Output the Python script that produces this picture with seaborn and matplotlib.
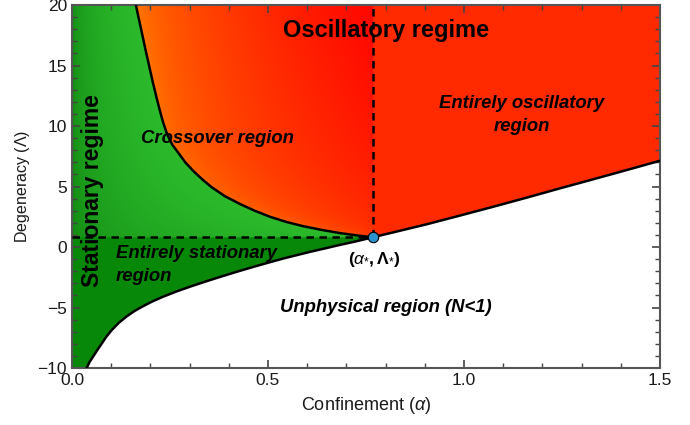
import numpy as np
import matplotlib
matplotlib.use("Agg")
import matplotlib.pyplot as plt
from matplotlib.ticker import MultipleLocator
import seaborn as sns

# boundary curves (alpha, Lambda)
upper_alpha = [0.163, 0.171, 0.180, 0.188, 0.197, 0.206, 0.215, 0.224, 0.233, 0.243, 0.256, 0.271, 0.289,
               0.309, 0.332, 0.356, 0.390, 0.429, 0.466, 0.505, 0.547, 0.590, 0.636, 0.684, 0.726, 0.767]
upper_lambda = [20.0, 18.8, 17.45, 16.25, 14.95, 13.65, 12.45, 11.3, 10.25, 9.3, 8.45, 7.8, 7.0,
                6.3, 5.6, 4.95, 4.2, 3.55, 3.0, 2.5, 2.07, 1.72, 1.42, 1.15, 0.96, 0.80]

lower_alpha = [0.0375, 0.045, 0.054, 0.065, 0.076, 0.088, 0.101, 0.120, 0.139, 0.158, 0.178, 0.205, 0.233,
               0.266, 0.301, 0.340, 0.378, 0.420, 0.463, 0.500, 0.539, 0.575, 0.607, 0.645, 0.680, 0.725,
               0.767, 0.835, 0.905, 0.990, 1.075, 1.160, 1.245, 1.330, 1.415, 1.500]
lower_lambda = [-10.0, -9.5, -9.05, -8.5, -7.98, -7.4, -6.88, -6.25, -5.75, -5.32, -4.95, -4.5, -4.1,
                -3.68, -3.28, -2.86, -2.47, -2.05, -1.64, -1.3, -0.95, -0.66, -0.40, -0.12, 0.15, 0.47,
                0.80, 1.33, 1.88, 2.6, 3.33, 4.08, 4.85, 5.6, 6.36, 7.13]

alpha_star = 0.767
lambda_star = 0.80

sns.set_style("ticks")
plt.rcParams['font.family'] = ['Liberation Sans', 'DejaVu Sans']
plt.rcParams['mathtext.fontset'] = 'custom'
plt.rcParams['mathtext.rm'] = 'Liberation Sans'
plt.rcParams['mathtext.it'] = 'Liberation Sans:italic'
plt.rcParams['mathtext.bf'] = 'Liberation Sans:bold'
plt.rcParams['text.color'] = 'black'
plt.rcParams['axes.labelcolor'] = 'black'

fig = plt.figure(figsize=(6.9, 4.25), dpi=100)
ax = fig.add_axes([0.1043, 0.1341, 0.8522, 0.8541])

# background colouring of the regimes
a = np.linspace(0, 1.5, 900)
l = np.linspace(-10, 20, 900)
A, L = np.meshgrid(a, l)
low = np.interp(A, lower_alpha, lower_lambda, left=-1e9)
a_up = np.interp(L, upper_lambda[::-1], upper_alpha[::-1])

img = np.ones(A.shape + (4,))
img[..., 3] = 0.0
physical = L >= low

red = np.array([1.0, 0x2a / 255, 0.0])
dark_green = np.array([0x08, 0x88, 0x08]) / 255
g0 = np.array([0x0e, 0x82, 0x0e]) / 255
g1 = np.array([0x2c, 0xbb, 0x2c]) / 255

osc = physical & (A >= alpha_star)
img[osc, :3] = red
img[osc, 3] = 1

ent_stat = physical & (A < alpha_star) & (L <= lambda_star)
img[ent_stat, :3] = dark_green
img[ent_stat, 3] = 1

stat = (A < alpha_star) & (L > lambda_star) & (A < a_up)
t = np.clip(A / a_up, 0, 1) ** 0.35
img[stat, :3] = (g0[None, :] * (1 - t[stat, None]) + g1[None, :] * t[stat, None])
img[stat, 3] = 1

cross = (A < alpha_star) & (L > lambda_star) & (A >= a_up)
h = np.clip((A - a_up) / (alpha_star - a_up), 0, 1) ** 0.6
v = np.clip((L - lambda_star) / (20 - lambda_star), 0, 1) ** 0.5
g_top = 0x7a - (0x7a - 0x06) * h
g_bot = 0x5a - (0x5a - 0x3a) * h
G = (g_bot * (1 - v) + g_top * v) / 255
img[cross, 0] = 1.0
img[cross, 1] = G[cross]
img[cross, 2] = 0.0
img[cross, 3] = 1

ax.imshow(img, origin='lower', extent=[0, 1.5, -10, 20], aspect='auto',
          interpolation='bilinear', zorder=0)

# boundaries
sns.lineplot(x=lower_alpha, y=lower_lambda, color='black', lw=1.8, estimator=None, sort=False, ax=ax, zorder=3)
sns.lineplot(x=upper_alpha, y=upper_lambda, color='black', lw=1.8, estimator=None, sort=False, ax=ax, zorder=3)
ax.plot([alpha_star, alpha_star], [lambda_star, 20], color='black', ls=(0, (3, 2.2)), lw=1.8, zorder=3)
ax.plot([0, alpha_star], [lambda_star, lambda_star], color='black', ls=(0, (3, 2.2)), lw=1.8, zorder=3)
ax.plot([alpha_star], [lambda_star], 'o', ms=7.5, mfc='#2a93cf', mec='black', mew=0.8, zorder=5, clip_on=False)

# annotations
reg = dict(fontsize=13.3, fontweight='bold', style='italic')
ax.text(0.80, 17.9, "Oscillatory regime", fontsize=17, fontweight='bold', ha='center', va='center')
ax.text(0.052, 4.7, "Stationary regime", fontsize=16.5, fontweight='bold', ha='center', va='center', rotation=90)
ax.text(0.371, 9.0, "Crossover region", ha='center', va='center', **reg)
ax.text(1.148, 10.9, "Entirely oscillatory\nregion", ha='center', va='center', linespacing=1.45, **reg)
ax.text(0.112, -1.5, "Entirely stationary\nregion", ha='left', va='center', linespacing=1.45, **reg)
ax.text(0.77, -1.07, r"$\mathbf{(}\mathit{\alpha}_{*}\mathbf{,\Lambda}_{*}\mathbf{)}$", fontsize=12.5,
        ha='center', va='center')
ax.text(0.80, -5.04, "Unphysical region (N<1)", ha='center', va='center', **reg)

ax.set_xlim(0, 1.5)
ax.set_ylim(-10, 20)
ax.xaxis.set_major_locator(MultipleLocator(0.5))
ax.xaxis.set_minor_locator(MultipleLocator(0.1))
ax.yaxis.set_major_locator(MultipleLocator(5))
ax.yaxis.set_minor_locator(MultipleLocator(1))
ax.xaxis.set_major_formatter(plt.FuncFormatter(lambda x, p: f"{x:.1f}"))
ax.yaxis.set_major_formatter(plt.FuncFormatter(lambda y, p: f"{y:.0f}".replace('-', '\u2212')))
ax.tick_params(which='both', direction='in', top=True, right=True, color='#444444', labelsize=12.5,
               labelcolor='#1a1a1a')
ax.tick_params(which='major', length=6, width=1.2)
ax.tick_params(which='minor', length=3.5, width=1.0)
for s in ax.spines.values():
    s.set_color('#555555')
    s.set_linewidth(1.5)
ax.set_xlabel(r"Confinement ($\alpha$)", fontsize=13, color='#1a1a1a', labelpad=5)
ax.set_ylabel(r"Degeneracy ($\mathit{\Lambda}$)", fontsize=11.5, color='#1a1a1a', labelpad=4)

fig.savefig("out.png", dpi=100)
